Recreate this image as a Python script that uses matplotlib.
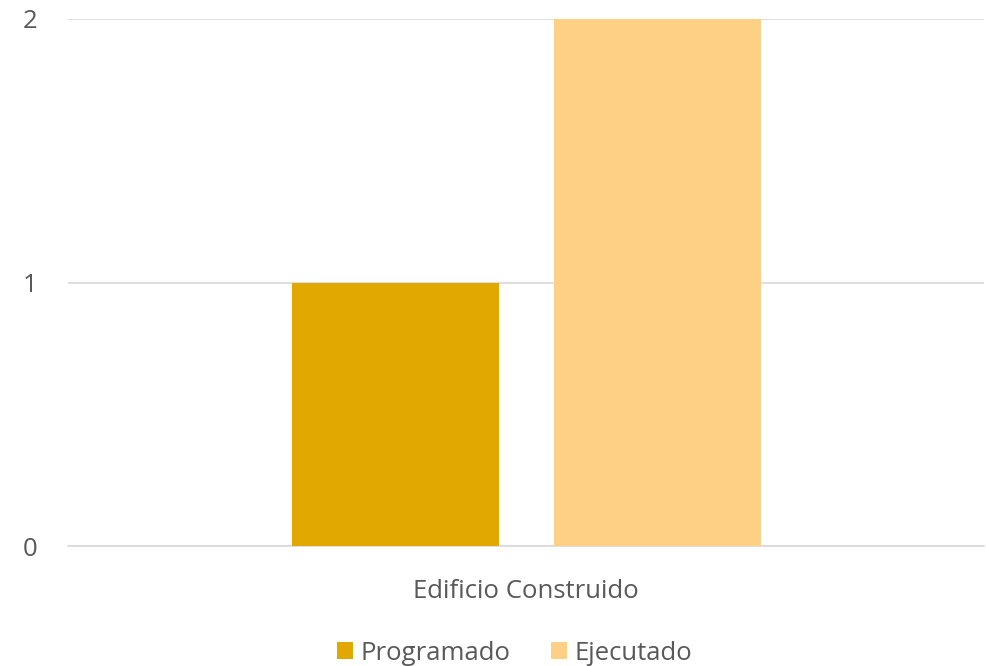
import matplotlib.pyplot as plt

categories = ["Edificio Construido"]
series_names = ["Programado", "Ejecutado"]
programado = [1]
ejecutado = [2]
colors = ["#E0A800", "#FDD086"]

plt.rcParams['font.family'] = ['Open Sans', 'DejaVu Sans']

fig = plt.figure(figsize=(9.86, 6.66), dpi=100)
ax = fig.add_axes([0.069, 0.18, 0.929, 0.7915])

width = 0.226
offset = 0.143
x = range(len(categories))
ax.bar([i - offset for i in x], programado, width, color=colors[0], label=series_names[0], zorder=3)
ax.bar([i + offset for i in x], ejecutado, width, color=colors[1], label=series_names[1], zorder=3)

ax.set_xlim(-0.5, 0.5)
ax.set_ylim(0, 2)
ax.set_yticks([0, 1, 2])
ax.set_xticks(list(x))
ax.set_xticklabels(categories)
ax.tick_params(axis='both', length=0, labelsize=18.5, colors="#595959")
ax.tick_params(axis='y', pad=22)
ax.tick_params(axis='x', pad=24)
ax.grid(axis='y', color="#D9D9D9", linewidth=1.2, zorder=0)
for s in ["top", "right", "left"]:
    ax.spines[s].set_visible(False)
ax.spines["bottom"].set_color("#D9D9D9")
ax.spines["bottom"].set_linewidth(1.2)

fig.legend(loc="lower center", bbox_to_anchor=(0.522, -0.034), ncol=2, frameon=False,
           fontsize=18.5, labelcolor="#595959", handlelength=0.6, handleheight=0.6,
           handletextpad=0.3, columnspacing=1.6)

fig.savefig("out.png", dpi=100)
